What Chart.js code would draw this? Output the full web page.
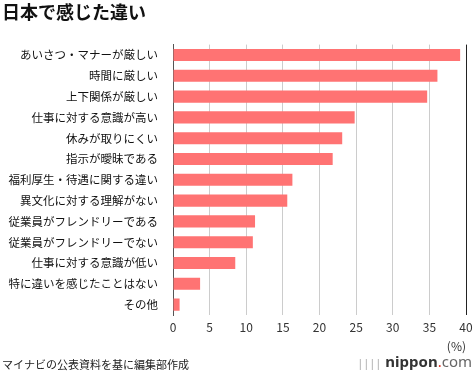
<!DOCTYPE html>
<html>
<head>
<meta charset="utf-8">
<script src="https://cdn.jsdelivr.net/npm/chart.js@4"></script>
<style>
  html, body { margin: 0; padding: 0; background: #fff; }
  #wrap { position: relative; width: 474px; height: 377px; }
  #logo { position: absolute; right: 2px; bottom: 6px; font: 15px "Noto Sans", sans-serif; color: #444; }
  #logo .dot { color: #e03020; }
</style>
</head>
<body>
<div id="wrap">
  <canvas id="chart" width="474" height="377"></canvas>
  <div id="logo"><span style="color:#aaa;font-size:11px">||||</span> <b style="color:#333">nippon</b><span class="dot">.</span><span style="color:#666">com</span></div>
</div>
<script>
const categories = ['あいさつ・マナーが厳しい', '時間に厳しい', '上下関係が厳しい', '仕事に対する意識が高い', '休みが取りにくい', '指示が曖昧である', '福利厚生・待遇に関する違い', '異文化に対する理解がない', '従業員がフレンドリーである', '従業員がフレンドリーでない', '仕事に対する意識が低い', '特に違いを感じたことはない', 'その他'];
const values = [39.2, 36.1, 34.7, 24.8, 23.1, 21.8, 16.3, 15.6, 11.2, 10.9, 8.5, 3.7, 0.9];
const xTicks = [0, 5, 10, 15, 20, 25, 30, 35, 40];

const font = '"Noto Sans CJK JP", "Noto Sans", sans-serif';

const ctx = document.getElementById('chart').getContext('2d');
const chart = new Chart(ctx, {
    type: 'bar',
    data: {
        labels: categories,
        datasets: [{
            data: values,
            backgroundColor: '#ff7373',
            borderWidth: 0,
            barPercentage: 0.58,
            categoryPercentage: 1.0
        }]
    },
    options: {
        indexAxis: 'y',
        responsive: false,
        animation: false,
        layout: { padding: { left: 2, right: 0, top: 0, bottom: 4 } },
        plugins: {
            legend: { display: false },
            tooltip: { enabled: false },
            title: {
                display: true,
                text: '日本で感じた違い',
                align: 'start',
                color: '#111',
                font: { family: font, size: 18, weight: 'bold' },
                padding: { top: 1, bottom: 22 }
            },
            subtitle: {
                display: true,
                position: 'bottom',
                text: 'マイナビの公表資料を基に編集部作成',
                align: 'start',
                color: '#222',
                font: { family: font, size: 11 },
                padding: { top: 4, bottom: 2 }
            }
        },
        scales: {
            x: {
                min: 0,
                max: 40,
                afterBuildTicks: axis => { axis.ticks = xTicks.map(v => ({ value: v })); },
                afterFit: axis => { axis.paddingRight = 8; },
                border: { display: false },
                grid: {
                    color: c => c.tick.value === 0 ? '#555' : (c.tick.value === 40 ? '#222' : '#ccc'),
                    lineWidth: 1,
                    drawTicks: false
                },
                ticks: { color: '#333', font: { family: font, size: 12 }, padding: 5 },
                title: {
                    display: true,
                    text: '(%)',
                    align: 'end',
                    color: '#333',
                    font: { family: font, size: 12 },
                    padding: { top: 0, bottom: 0 }
                }
            },
            y: {
                afterFit: axis => { axis.width = 171; },
                border: { display: true, color: '#555' },
                grid: { display: false },
                ticks: { color: '#111', font: { family: font, size: 11.5 }, padding: 7 }
            }
        }
    }
});
</script>
</body>
</html>
